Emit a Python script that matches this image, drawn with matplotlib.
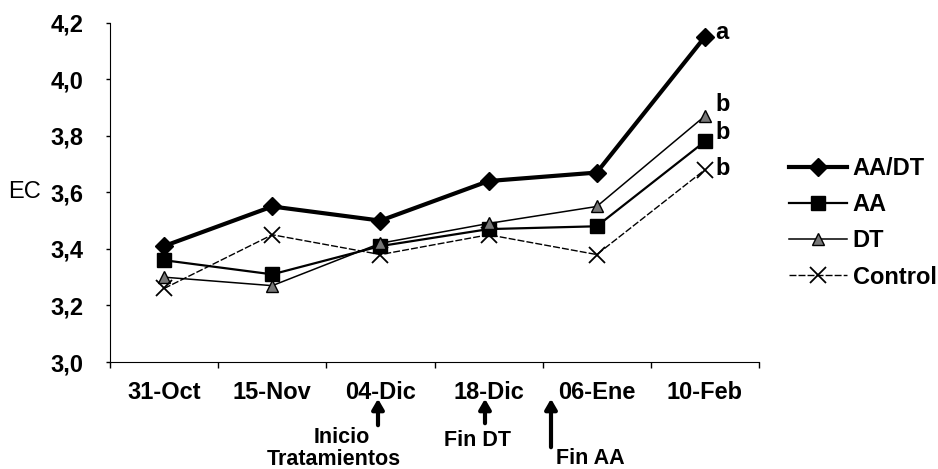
import numpy as np
import matplotlib
matplotlib.use("Agg")
import matplotlib.pyplot as plt

plt.rcParams['font.family'] = ['Liberation Sans', 'DejaVu Sans']

fechas = ['31-Oct', '15-Nov', '04-Dic', '18-Dic', '06-Ene', '10-Feb']
aa_dt = [3.41, 3.55, 3.50, 3.64, 3.67, 4.15]
aa = [3.36, 3.31, 3.41, 3.47, 3.48, 3.78]
dt = [3.30, 3.27, 3.42, 3.49, 3.55, 3.87]
control = [3.26, 3.45, 3.38, 3.45, 3.38, 3.68]
letras = ['a', 'b', 'b', 'b']
yticks = [3.0, 3.2, 3.4, 3.6, 3.8, 4.0, 4.2]

W, H = 938, 469
FS = 17
fig = plt.figure(figsize=(W / 100, H / 100), dpi=100)
ax = fig.add_axes([110 / W, (H - 362) / H, (759 - 110) / W, (362 - 22.7) / H])

x = np.arange(len(fechas)) + 0.5

ax.plot(x, aa_dt, color='black', lw=3, marker='D', ms=9, label='AA/DT')
ax.plot(x, aa, color='black', lw=1.6, marker='s', ms=10, label='AA')
ax.plot(x, dt, color='black', lw=1.1, marker='^', ms=9, mfc='#777777', mec='black', label='DT')
ax.plot(x, control, color='black', lw=1, ls=(0, (5, 1.5)), marker='x', ms=11, mew=1.3,
        label='Control')

# significance letters next to the last points
finales = [aa_dt[-1], dt[-1], aa[-1], control[-1]]
desfase = [0.017, 0.04, 0.03, 0.005]
for v, d, l in zip(finales, desfase, letras):
    ax.text(x[-1] + 0.1, v + d, l, fontsize=FS, fontweight='bold', va='center')

ax.set_xlim(0, 6)
ax.set_ylim(3.0, 4.2)
ax.set_yticks(yticks)
ax.set_yticklabels([f'{t:.1f}'.replace('.', ',') for t in yticks],
                   fontsize=FS, fontweight='bold')
ax.set_xticks(np.arange(7))
ax.set_xticklabels([])
ax.set_xticks(x, minor=True)
ax.set_xticklabels(fechas, minor=True, fontsize=FS, fontweight='bold')
ax.tick_params(axis='x', which='minor', length=0, pad=14)
ax.tick_params(axis='x', which='major', length=4, width=1, direction='out')
ax.tick_params(axis='y', which='major', length=3, width=1, direction='out', pad=16)
for s in ['top', 'right']:
    ax.spines[s].set_visible(False)

fig.text(8 / W, (H - 192) / H, 'EC', fontsize=FS, va='center')

leg = ax.legend(loc='upper left', bbox_to_anchor=(789 / W, (H - 157) / H),
                bbox_transform=fig.transFigure, frameon=False, fontsize=FS,
                handlelength=2.45, labelspacing=0.56, borderpad=0, borderaxespad=0,
                handletextpad=0.25)
for t in leg.get_texts():
    t.set_fontweight('bold')

# arrows and notes under the axis
def flecha(xp, y0, y1):
    ax.annotate('', xy=(xp, H - y1), xytext=(xp, H - y0), xycoords='figure pixels',
                textcoords='figure pixels', annotation_clip=False,
                arrowprops=dict(arrowstyle='-|>,head_width=0.35,head_length=0.6',
                                lw=3, color='black'))

flecha(378, 428, 396)
flecha(485, 426, 396)
flecha(551, 450, 396)

notas = [(342, 437, 'Inicio'), (334, 459, 'Tratamientos'), (477, 440, 'Fin DT'), (590, 458, 'Fin AA')]
for xp, yp, txt in notas:
    fig.text(xp / W, (H - yp) / H, txt, fontsize=15.5, fontweight='bold', ha='center', va='center')

fig.savefig('out.png', dpi=100)
